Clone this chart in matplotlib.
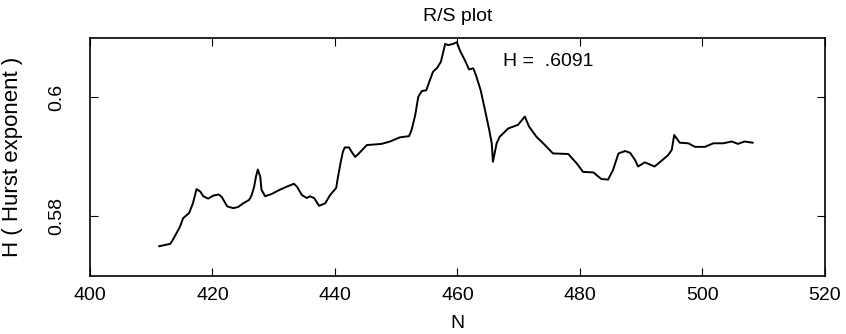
import numpy as np
import matplotlib
matplotlib.use("Agg")
import matplotlib.pyplot as plt

plt.rcParams['font.family'] = ['Liberation Sans', 'DejaVu Sans']

# N values and Hurst exponent
n_vals = [411.3, 413.1, 413.6, 414.7, 415.2, 416.2, 416.8, 417.4, 418.0, 418.5,
          419.3, 420.1, 421.0, 421.5, 422.4, 423.4, 424.2, 425.0, 426.0, 426.4,
          426.8, 427.1, 427.4, 427.8, 428.0, 428.6, 429.7, 431.0, 432.1, 433.3,
          433.8, 434.6, 435.4, 435.9, 436.6, 437.4, 438.4, 439.2, 440.2, 440.5,
          440.9, 441.3, 441.6, 442.3, 442.7, 443.3, 444.0, 445.2, 447.6, 449.0,
          450.6, 452.1, 452.5, 453.1, 453.6, 454.2, 454.9, 455.5, 456.0, 456.7,
          457.3, 458.0, 458.5, 459.3, 459.9, 460.4, 461.2, 461.9, 462.6, 463.1,
          463.8, 464.5, 465.2, 465.6, 465.8, 466.4, 466.9, 468.3, 469.9, 471.0,
          471.7, 472.9, 474.0, 475.6, 478.1, 479.5, 480.5, 482.2, 483.5, 484.6,
          485.4, 486.3, 487.4, 488.2, 489.0, 489.5, 490.6, 492.2, 493.6, 494.4,
          495.0, 495.4, 496.3, 497.7, 498.8, 500.4, 501.8, 503.4, 504.8, 505.8,
          506.9, 508.2]
h_vals = [0.5750, 0.5754, 0.5762, 0.5783, 0.5797, 0.5806, 0.5822, 0.5846, 0.5842, 0.5834,
          0.5830, 0.5835, 0.5837, 0.5833, 0.5817, 0.5814, 0.5816, 0.5822, 0.5828, 0.5836,
          0.5850, 0.5867, 0.5879, 0.5867, 0.5845, 0.5834, 0.5838, 0.5845, 0.5850, 0.5855,
          0.5850, 0.5836, 0.5831, 0.5834, 0.5831, 0.5818, 0.5822, 0.5836, 0.5848, 0.5867,
          0.5889, 0.5909, 0.5916, 0.5916, 0.5909, 0.5900, 0.5907, 0.5920, 0.5922, 0.5926,
          0.5933, 0.5935, 0.5945, 0.5970, 0.6001, 0.6011, 0.6012, 0.6029, 0.6043, 0.6050,
          0.6060, 0.6090, 0.6088, 0.6090, 0.6093, 0.6079, 0.6063, 0.6047, 0.6049, 0.6035,
          0.6012, 0.5979, 0.5945, 0.5923, 0.5892, 0.5923, 0.5934, 0.5948, 0.5954, 0.5968,
          0.5951, 0.5934, 0.5923, 0.5906, 0.5905, 0.5889, 0.5875, 0.5874, 0.5863, 0.5862,
          0.5878, 0.5906, 0.5910, 0.5907, 0.5895, 0.5884, 0.5891, 0.5884, 0.5896, 0.5903,
          0.5912, 0.5937, 0.5924, 0.5923, 0.5917, 0.5917, 0.5923, 0.5923, 0.5926, 0.5922,
          0.5926, 0.5924]

x_ticks = [400, 420, 440, 460, 480, 500, 520]
y_ticks = [0.58, 0.6]
y_tick_labels = ['0.58', '0.6']

fig = plt.figure(figsize=(8.46, 3.34), dpi=100)
ax = fig.add_axes([0.1064, 0.1737, 0.8686, 0.7126])
ax.plot(n_vals, h_vals, color='black', linewidth=1.4)

ax.set_xlim(400, 520)
ax.set_ylim(0.57, 0.61)
ax.set_xticks(x_ticks)
ax.set_yticks(y_ticks)
ax.set_yticklabels(y_tick_labels, rotation=90, va='center')
ax.tick_params(direction='in', top=True, right=True, labelsize=14, length=6)
ax.tick_params(axis='x', pad=8)
ax.tick_params(axis='y', pad=18)
for s in ax.spines.values():
    s.set_linewidth(1.2)

ax.set_title('R/S plot', fontsize=14, pad=12)
ax.set_xlabel('N', fontsize=14)
ax.set_ylabel('H ( Hurst exponent )', fontsize=16)
ax.xaxis.set_label_coords(0.5, -0.165)
ax.yaxis.set_label_coords(-0.091, 0.5)
ax.text(467.5, 0.6061, 'H =  .6091', fontsize=14, va='center')

fig.savefig('out.png', dpi=100)
